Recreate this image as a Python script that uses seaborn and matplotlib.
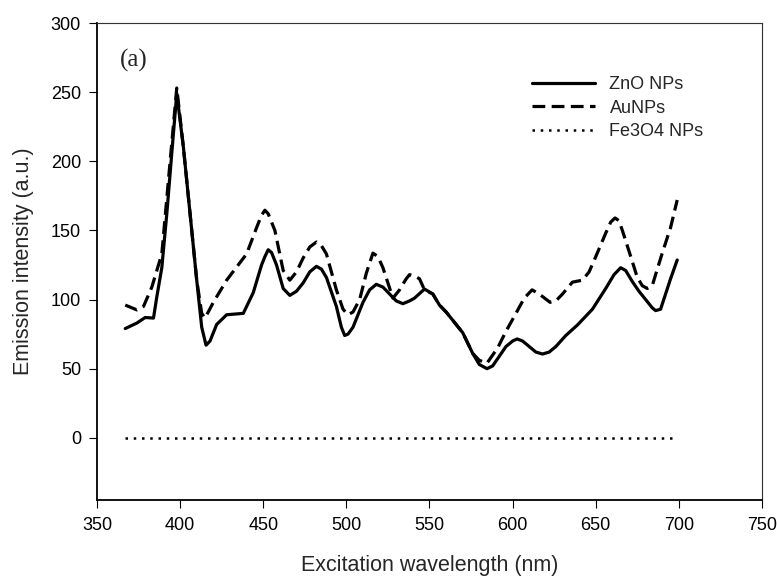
import matplotlib
matplotlib.use("Agg")
import matplotlib.pyplot as plt
import seaborn as sns
import pandas as pd

zno_x = [367, 374, 379, 384, 386, 389, 392, 395, 398, 402, 406, 410, 413, 415.6, 418, 422, 428, 438, 444, 449, 451, 453, 455, 458, 462, 466, 470, 474, 478, 482, 485, 488, 494, 497, 499, 501, 504, 510, 514, 518, 522, 526, 530, 534, 538, 541, 547, 552, 556, 560, 564, 568, 570, 576, 580, 584.6, 588, 592, 596, 600, 602.7, 606, 610, 614, 618, 622, 626, 632, 639, 648, 656, 661, 665, 668, 672, 676, 680, 684, 686, 689, 692, 695, 699]
zno_y = [79, 83, 87, 86.6, 102, 123, 162, 206, 249, 210, 162, 114, 80, 67, 70, 82, 89, 90, 105, 125, 131, 136, 134, 125, 108, 103, 106, 112, 120, 124, 122, 116, 95, 80, 74, 75, 80, 98, 107, 111, 109, 104, 99, 97, 99, 101, 107.6, 104, 96, 91, 85, 79, 76, 61, 53, 50, 52, 59, 66, 70, 71.5, 70, 66, 62, 60.6, 62, 66, 74, 81.6, 93, 108, 118, 123, 121, 113, 106, 100, 94, 92, 93, 104, 115, 128.6]

au_x = [367, 374, 378, 383, 389, 394, 398, 402, 406, 410, 413, 415, 420, 428, 440, 446, 449, 451, 453, 457, 462, 466, 470, 474, 478, 482, 485, 488, 494, 498, 501, 504, 508, 512, 516, 519, 522, 528, 532, 536, 538, 541, 544, 547, 552, 556, 560, 564, 568, 570, 576, 580, 584.6, 591, 596, 602, 607, 611.7, 616, 622.5, 626, 630, 636, 642, 646, 650, 656, 659, 661.6, 664, 666, 670, 675, 678, 681, 684, 686, 690, 695, 699]
au_y = [96, 92.5, 95, 109, 133, 200, 253, 210, 162, 114, 90, 86.6, 98, 114, 133, 152, 161, 164.6, 162, 150, 121, 114, 120, 130, 138, 141.6, 139, 133, 107, 93, 89, 91, 100, 119, 133.6, 131, 123, 101, 107, 115, 118, 117, 115, 107, 104, 96, 91, 85, 79, 76, 61, 56, 54, 65, 77, 90, 101, 107, 104, 98, 99, 104, 112.6, 114, 120, 131, 148, 156, 159, 157, 150, 135, 116, 110, 108, 110, 118, 133.6, 152, 172]

fe_x = [367, 697]
fe_y = [0, 0]

series_names = ["ZnO NPs", "AuNPs", "Fe3O4 NPs"]

sns.set_style("white")
plt.rcParams['font.family'] = ['Liberation Sans', 'DejaVu Sans']

fig = plt.figure(figsize=(7.77, 5.78), dpi=100)
ax = fig.add_axes([0.1248, 0.1349, 0.8559, 0.8253])

df_z = pd.DataFrame({"x": zno_x, "y": zno_y})
df_a = pd.DataFrame({"x": au_x, "y": au_y})
df_f = pd.DataFrame({"x": fe_x, "y": fe_y})

sns.lineplot(data=df_z, x="x", y="y", ax=ax, color="black", lw=2.3, label=series_names[0], sort=False)
sns.lineplot(data=df_a, x="x", y="y", ax=ax, color="black", lw=2.3, label=series_names[1], sort=False,
             linestyle=(0, (4, 2)))
sns.lineplot(data=df_f, x="x", y="y", ax=ax, color="black", lw=1.8, label=series_names[2], sort=False,
             linestyle=(0, (1, 2.3)))

ax.set_xlim(350, 750)
ax.set_ylim(-45, 300)
ax.set_xticks([350, 400, 450, 500, 550, 600, 650, 700, 750])
ax.set_yticks([0, 50, 100, 150, 200, 250, 300])
ax.tick_params(axis='both', which='major', direction='out', length=5.5, width=0.8,
               labelsize=13, pad=6, bottom=True, left=True, colors='black')
ax.tick_params(axis='x', pad=7)
ax.set_xlabel("Excitation wavelength (nm)", fontsize=15.5, labelpad=15)
ax.set_ylabel("Emission intensity (a.u.)", fontsize=15.5, labelpad=12)

for s in ['left', 'bottom']:
    ax.spines[s].set_color('black')
    ax.spines[s].set_linewidth(1.3)
for s in ['top', 'right']:
    ax.spines[s].set_color('#333333')
    ax.spines[s].set_linewidth(0.8)
    ax.spines[s].set_linestyle((0, (1, 0.5)))

ax.text(364, 273, "(a)", fontsize=18, family=['Liberation Serif', 'DejaVu Serif'],
        ha='left', va='center')

leg = ax.legend(loc='upper left', bbox_to_anchor=(0.630, 0.922), frameon=False,
                fontsize=13, handlelength=3.5, handletextpad=0.78, labelspacing=0.35)

fig.savefig("out.png", dpi=100)
